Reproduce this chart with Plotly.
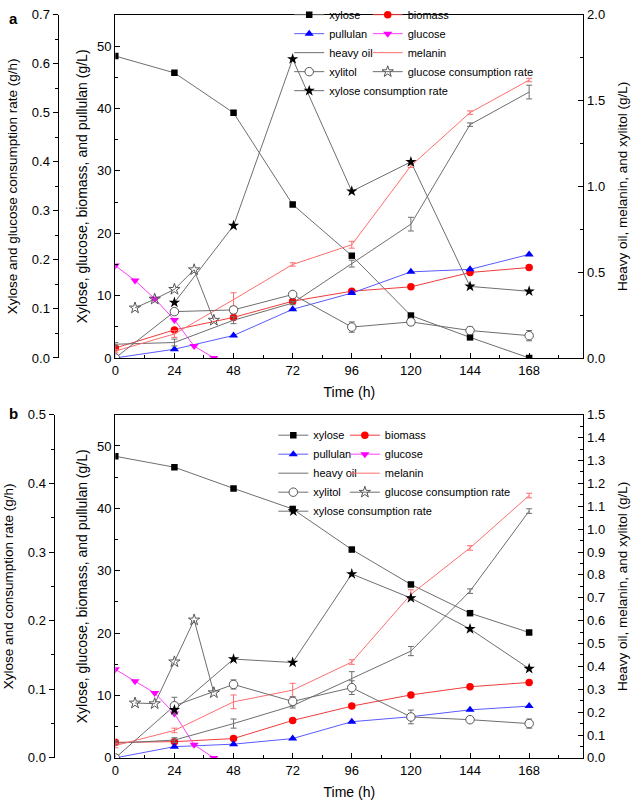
import plotly.graph_objects as go

# ---------------- data ----------------
time = [0, 24, 48, 72, 96, 120, 144, 168]
t_glucose = [0, 8, 16, 24, 32, 40]
t_glc_rate = [8, 16, 24, 32, 40]
t_xyl_rate = [24, 48, 72, 96, 120, 144, 168]

legend_names = ["xylose", "biomass", "pullulan", "glucose", "heavy oil", "melanin",
                "xylitol", "glucose consumption rate", "xylose consumption rate"]

# panel a
a_xylose = [48.4, 45.7, 39.3, 24.6, 16.4, 6.8, 3.3, 0.0]
a_biomass = [1.6, 4.5, 6.5, 9.1, 10.7, 11.4, 13.7, 14.5]
a_pullulan = [0.0, 1.4, 3.6, 7.8, 10.4, 13.8, 14.2, 16.6]
a_glucose = [14.8, 12.4, 9.5, 6.1, 1.9, 0.0]
a_heavy_oil = [0.08, 0.09, 0.22, 0.32, 0.55, 0.78, 1.36, 1.55]
a_heavy_oil_err = [0.01, 0.02, 0.02, 0.01, 0.02, 0.04, 0.01, 0.04]
a_melanin = [0.04, 0.14, 0.34, 0.545, 0.66, 1.12, 1.43, 1.62]
a_melanin_err = [0.01, 0.02, 0.04, 0.01, 0.02, 0.01, 0.01, 0.01]
a_xylitol = [0.0, 0.27, 0.28, 0.37, 0.18, 0.21, 0.16, 0.13]
a_xylitol_err = [0.0, 0.01, 0.02, 0.01, 0.03, 0.02, 0.02, 0.03]
a_glc_rate = [0.102, 0.12, 0.14, 0.18, 0.077]
a_xyl_rate = [0.113, 0.27, 0.61, 0.34, 0.40, 0.146, 0.136]

# panel b
b_xylose = [48.35, 46.6, 43.2, 39.9, 33.4, 27.8, 23.2, 20.1]
b_biomass = [2.5, 2.6, 3.1, 6.0, 8.3, 10.1, 11.4, 12.1]
b_pullulan = [0.0, 1.8, 2.2, 3.1, 5.8, 6.6, 7.7, 8.3]
b_glucose = [14.2, 12.3, 10.4, 7.1, 2.1, 0.0]
b_heavy_oil = [0.064, 0.078, 0.15, 0.228, 0.347, 0.467, 0.729, 1.079]
b_heavy_oil_err = [0.01, 0.01, 0.02, 0.01, 0.03, 0.02, 0.01, 0.01]
b_melanin = [0.054, 0.12, 0.245, 0.296, 0.419, 0.715, 0.918, 1.147]
b_melanin_err = [0.01, 0.01, 0.03, 0.03, 0.01, 0.02, 0.01, 0.01]
b_xylitol = [0.0, 0.228, 0.321, 0.247, 0.307, 0.179, 0.167, 0.15]
b_xylitol_err = [0.0, 0.037, 0.02, 0.02, 0.03, 0.03, 0.01, 0.02]
b_glc_rate = [0.080, 0.079, 0.14, 0.201, 0.095]
b_xyl_rate = [0.070, 0.144, 0.139, 0.268, 0.233, 0.188, 0.13]

# ---------------- style ----------------
FONT = "Liberation Sans, Arial, sans-serif"
GRAY = "#6e6e6e"

fig = go.Figure()


def add_panel(xa, yl, yr, yo, leg1, leg2, d):
    common = dict(xaxis=xa, hoverinfo="skip")
    fig.add_trace(go.Scatter(x=time, y=d["xylose"], yaxis=yl, name=legend_names[0], legend=leg1,
                             mode="lines+markers", line=dict(color=GRAY, width=1),
                             marker=dict(symbol="square", size=6.5, color="black"), **common))
    fig.add_trace(go.Scatter(x=time, y=d["biomass"], yaxis=yl, name=legend_names[1], legend=leg2,
                             mode="lines+markers", line=dict(color="#f03c3c", width=1),
                             marker=dict(symbol="circle", size=7.5, color="#ff0000"), **common))
    fig.add_trace(go.Scatter(x=time, y=d["pullulan"], yaxis=yl, name=legend_names[2], legend=leg1,
                             mode="lines+markers", line=dict(color="#5a5aff", width=1),
                             marker=dict(symbol="triangle-up", size=8, color="#0000ff"), **common))
    fig.add_trace(go.Scatter(x=t_glucose, y=d["glucose"], yaxis=yl, name=legend_names[3], legend=leg2,
                             mode="lines+markers", line=dict(color="#ff3cff", width=1),
                             marker=dict(symbol="triangle-down", size=8, color="#ff00ff"), **common))
    fig.add_trace(go.Scatter(x=time, y=d["heavy_oil"], yaxis=yr, name=legend_names[4], legend=leg1,
                             mode="lines", line=dict(color=GRAY, width=1),
                             error_y=dict(type="data", array=d["heavy_oil_err"], color=GRAY,
                                          thickness=1, width=3), **common))
    fig.add_trace(go.Scatter(x=time, y=d["melanin"], yaxis=yr, name=legend_names[5], legend=leg2,
                             mode="lines", line=dict(color="#ff6e6e", width=1),
                             error_y=dict(type="data", array=d["melanin_err"], color="#ff6e6e",
                                          thickness=1, width=3), **common))
    fig.add_trace(go.Scatter(x=time, y=d["xylitol"], yaxis=yr, name=legend_names[6], legend=leg1,
                             mode="lines+markers", line=dict(color=GRAY, width=1),
                             marker=dict(symbol="circle", size=8.5, color="white",
                                         line=dict(color="#555555", width=1)),
                             error_y=dict(type="data", array=d["xylitol_err"], color=GRAY,
                                          thickness=1, width=3), **common))
    fig.add_trace(go.Scatter(x=t_glc_rate, y=d["glc_rate"], yaxis=yo, name=legend_names[7], legend=leg2,
                             mode="lines+markers", line=dict(color=GRAY, width=1),
                             marker=dict(symbol="star-open", size=8.5, color="#555555",
                                         line=dict(width=1)), **common))
    fig.add_trace(go.Scatter(x=t_xyl_rate, y=d["xyl_rate"], yaxis=yo, name=legend_names[8], legend=leg1,
                             mode="lines+markers", line=dict(color=GRAY, width=1),
                             marker=dict(symbol="star", size=8.5, color="black"), **common))


add_panel("x", "y", "y2", "y3", "legend", "legend2", dict(
    xylose=a_xylose, biomass=a_biomass, pullulan=a_pullulan, glucose=a_glucose,
    heavy_oil=a_heavy_oil, heavy_oil_err=a_heavy_oil_err, melanin=a_melanin,
    melanin_err=a_melanin_err, xylitol=a_xylitol, xylitol_err=a_xylitol_err,
    glc_rate=a_glc_rate, xyl_rate=a_xyl_rate))
add_panel("x2", "y4", "y5", "y6", "legend3", "legend4", dict(
    xylose=b_xylose, biomass=b_biomass, pullulan=b_pullulan, glucose=b_glucose,
    heavy_oil=b_heavy_oil, heavy_oil_err=b_heavy_oil_err, melanin=b_melanin,
    melanin_err=b_melanin_err, xylitol=b_xylitol, xylitol_err=b_xylitol_err,
    glc_rate=b_glc_rate, xyl_rate=b_xyl_rate))

W, H = 638, 810
XDOM = [112 / W, 583 / W]
TOPDOM = [1 - 357 / H, 1 - 7 / H]
BOTDOM = [1 - 765 / H, 1 - 415 / H]


def base_axis(ticks="inside"):
    return dict(showline=True, linecolor="black", linewidth=1.3, ticks=ticks, ticklen=5,
                tickwidth=1.2, tickcolor="black", showgrid=False, zeroline=False,
                tickfont=dict(family=FONT, size=13, color="black"))


def minor(dt, ticks="inside"):
    return dict(dtick=dt, tick0=0, ticks=ticks, ticklen=3, tickwidth=1, tickcolor="black",
                showgrid=False)


def xaxis(anchor):
    a = base_axis()
    a.update(domain=XDOM, range=[0, 190], anchor=anchor, tick0=0, dtick=24, mirror=True,
             minor=minor(12), title=dict(text="Time (h)", standoff=10,
                                         font=dict(family=FONT, size=14, color="black")))
    return a


def inner_y(dom, anchor):
    a = base_axis()
    a.update(domain=dom, range=[0, 55], anchor=anchor, tick0=0, dtick=10, minor=minor(5),
             title=dict(text="Xylose, glucose, biomass, and pullulan (g/L)", standoff=6,
                        font=dict(family=FONT, size=14, color="black")))
    return a


def right_y(over, anchor, top, dt, mdt):
    a = base_axis()
    a.update(overlaying=over, side="right", anchor=anchor, range=[0, top], tick0=0, dtick=dt,
             tickformat=".1f", minor=minor(mdt),
             title=dict(text="Heavy oil, melanin, and xylitol (g/L)", standoff=13,
                        font=dict(family=FONT, size=13.5, color="black")))
    return a


def outer_y(over, pos, top, title):
    a = base_axis("outside")
    a.update(overlaying=over, side="left", anchor="free", position=pos, range=[0, top],
             tick0=0, dtick=0.1, tickformat=".1f", minor=minor(0.05, "outside"),
             title=dict(text=title, standoff=10, font=dict(family=FONT, size=13.5, color="black")))
    return a


def legend(xpx, ypx):
    return dict(x=xpx / W, y=1 - ypx / H, xanchor="left", yanchor="top",
                bgcolor="rgba(0,0,0,0)", borderwidth=0, traceorder="normal",
                font=dict(family=FONT, size=11, color="black"), itemwidth=30)


fig.update_layout(
    width=W, height=H, margin=dict(l=0, r=0, t=0, b=0),
    paper_bgcolor="white", plot_bgcolor="white",
    xaxis=xaxis("y"),
    yaxis=inner_y(TOPDOM, "x"),
    yaxis2=right_y("y", "x", 2.0, 0.5, 0.25),
    yaxis3=outer_y("y", 54 / W, 0.7, "Xylose and glucose consumption rate (g/h)"),
    xaxis2=xaxis("y4"),
    yaxis4=inner_y(BOTDOM, "x2"),
    yaxis5=right_y("y4", "x2", 1.5, 0.1, 0.05),
    yaxis6=outer_y("y4", 50 / W, 0.5, "Xylose and consumption rate (g/h)"),
    legend=legend(287, -8),
    legend2=legend(366, -8),
    legend3=legend(271, 421),
    legend4=legend(343, 421),
    annotations=[
        dict(text="<b>a</b>", x=3 / W, y=1 - 0 / H, xref="paper", yref="paper",
             xanchor="left", yanchor="top", showarrow=False,
             font=dict(family=FONT, size=15, color="black")),
        dict(text="<b>b</b>", x=3 / W, y=1 - 403 / H, xref="paper", yref="paper",
             xanchor="left", yanchor="top", showarrow=False,
             font=dict(family=FONT, size=15, color="black")),
    ],
)

fig.write_html("out.html", config={"displayModeBar": False},
               post_script="document.body.style.margin='0';document.body.style.overflow='hidden';")
